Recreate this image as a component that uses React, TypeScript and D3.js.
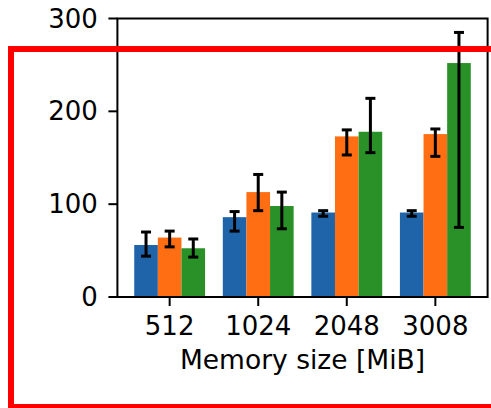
import React from "react";
import * as d3 from "d3";

const categories = ["512", "1024", "2048", "3008"];
const seriesNames = ["A", "B", "C"];
const seriesColors = ["#1f63a9", "#ff6e12", "#2a9128"];
const means = [
  [56, 86, 91, 91],
  [64, 113, 173, 175.5],
  [52.5, 98, 178, 252],
];
const lowers = [
  [44, 71, 87, 87],
  [54, 93, 153, 151.5],
  [43, 73.5, 155.5, 75],
];
const uppers = [
  [70, 92, 93, 93],
  [71, 132, 180, 181],
  [62.5, 113, 214, 285],
];
const yTicks = [0, 100, 200, 300];
const xLabel = "Memory size [MiB]";

const W = 491;
const H = 408;
const left = 117.4;
const right = 487.6;
const top = 18.5;
const bottom = 297;
const font = "DejaVu Sans, sans-serif";
const fs = 26;

export default function App() {
  const x = d3.scaleLinear().domain([-0.59, 3.59]).range([left, right]);
  const y = d3.scaleLinear().domain([0, 300]).range([bottom, top]);
  const bw = 0.8 / 3;

  return (
    <svg
      width={W}
      height={H}
      style={{ position: "absolute", left: 0, top: 0, background: "#fff" }}
    >
      <rect x={0} y={0} width={W} height={H} fill="#fff" />
      {seriesNames.map((s, si) =>
        categories.map((c, ci) => {
          const x0 = x(ci - 0.4 + si * bw);
          const x1 = x(ci - 0.4 + (si + 1) * bw);
          return (
            <rect
              key={s + c}
              x={x0}
              y={y(means[si][ci])}
              width={x1 - x0}
              height={y(0) - y(means[si][ci])}
              fill={seriesColors[si]}
            />
          );
        })
      )}
      {seriesNames.map((s, si) =>
        categories.map((c, ci) => {
          const cx = x(ci - 0.4 + (si + 0.5) * bw);
          const yl = y(lowers[si][ci]);
          const yu = y(uppers[si][ci]);
          return (
            <g key={"e" + s + c} stroke="#000" strokeWidth={3}>
              <line x1={cx} x2={cx} y1={yl} y2={yu} />
              <line x1={cx - 5} x2={cx + 5} y1={yl} y2={yl} />
              <line x1={cx - 5} x2={cx + 5} y1={yu} y2={yu} />
            </g>
          );
        })
      )}
      <rect
        x={left}
        y={top}
        width={right - left}
        height={bottom - top}
        fill="none"
        stroke="#000"
        strokeWidth={2}
      />
      {yTicks.map((t) => (
        <g key={"y" + t}>
          <line x1={left - 9} x2={left} y1={y(t)} y2={y(t)} stroke="#000" strokeWidth={2} />
          <text
            x={left - 19.5}
            y={y(t)}
            textAnchor="end"
            dominantBaseline="central"
            fontFamily={font}
            fontSize={fs}
            fill="#000"
          >
            {t}
          </text>
        </g>
      ))}
      {categories.map((c, ci) => (
        <g key={"x" + c}>
          <line x1={x(ci)} x2={x(ci)} y1={bottom} y2={bottom + 9} stroke="#000" strokeWidth={2} />
          <text
            x={x(ci)}
            y={335}
            textAnchor="middle"
            fontFamily={font}
            fontSize={fs}
            fill="#000"
          >
            {c}
          </text>
        </g>
      ))}
      <text
        x={(left + right) / 2}
        y={369}
        textAnchor="middle"
        fontFamily={font}
        fontSize={26.5}
        fill="#000"
      >
        {xLabel}
      </text>
      <rect
        x={11}
        y={49}
        width={490}
        height={358}
        fill="none"
        stroke="#ff0000"
        strokeWidth={6}
      />
    </svg>
  );
}
